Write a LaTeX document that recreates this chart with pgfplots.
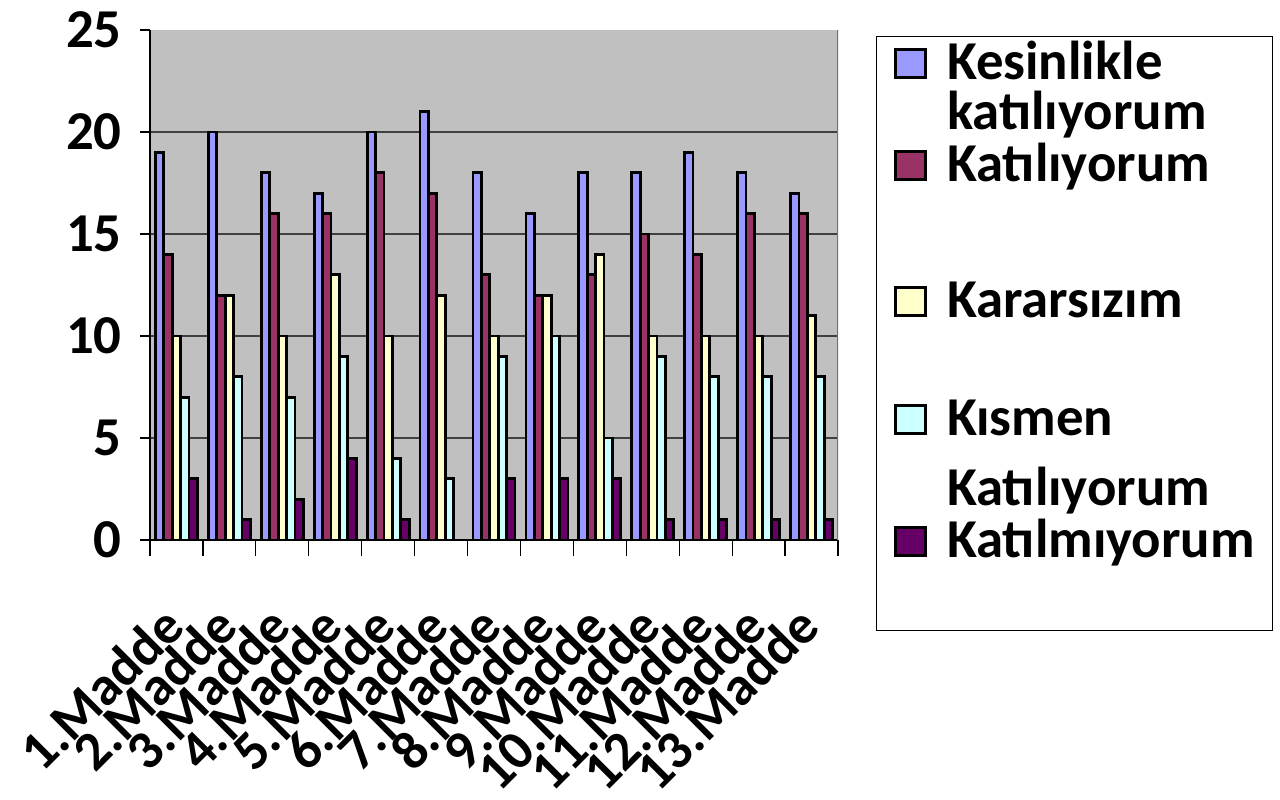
\documentclass[border=0pt]{standalone}
\usepackage{pgfplots}
\pgfplotsset{compat=1.18}
\usepackage{pgfplotstable}
\usepackage{fontspec}
\setmainfont{Carlito}
\definecolor{cA}{HTML}{9999FF}
\definecolor{cB}{HTML}{993366}
\definecolor{cC}{HTML}{FFFFCC}
\definecolor{cD}{HTML}{CCFFFF}
\definecolor{cE}{HTML}{660066}
\definecolor{bg}{HTML}{C0C0C0}
\pgfplotstableread{
x a b c d e
0 19 14 10 7 3
1 20 12 12 8 1
2 18 16 10 7 2
3 17 16 13 9 4
4 20 18 10 4 1
5 21 17 12 3 0
6 18 13 10 9 3
7 16 12 12 10 3
8 18 13 14 5 3
9 18 15 10 9 1
10 19 14 10 8 1
11 18 16 10 8 1
12 17 16 11 8 1
}\datatable
\newcommand{\bigf}{\fontsize{27.5}{30}\selectfont\bfseries}
\newcommand{\legrow}[2]{\rule{0pt}{#1bp}\smash{#2}}
\begin{document}
\begin{tikzpicture}
\useasboundingbox (0,0) rectangle (640bp,400bp);
\begin{axis}[
  at={(75bp,130bp)}, anchor=south west,
  scale only axis, width=344bp, height=255bp,
  ybar=0pt, bar width=4.2bp,
  xmin=-0.5, xmax=12.5, ymin=0, ymax=25,
  axis background/.style={fill=bg},
  axis x line*=bottom, axis y line*=left,
  axis line style={-, black, line width=0.6bp},
  ytick={0,5,10,15,20}, extra y ticks={25}, extra y tick style={grid=none},
  ymajorgrids, grid style={black!75, line width=0.6bp},
  xtick={0,...,12},
  xticklabels={1.Madde,2.Madde,3.Madde,4.Madde,5.Madde,6.Madde,7.Madde,8.Madde,9.Madde,10.Madde,11.Madde,12.Madde,13.Madde},
  major x tick style={draw=none},
  minor xtick={-0.5,0.5,...,12.5},
  minor x tick style={draw=black, line width=0.6bp},
  tick align=outside,
  major tick length=5bp, minor tick length=8bp,
  tick style={black, line width=0.6bp},
  /pgf/number format/assume math mode=true,
  tick label style={font=\bigf},
  yticklabel style={anchor=east, inner sep=0pt, xshift=-9bp},
  xticklabel style={xshift=-1.5bp, yshift=-33bp, rotate=45, anchor=east, inner sep=0pt},
  legend style={at={(1.0552,0.988)}, anchor=north west, draw=black, line width=0.5bp, fill=white,
    inner xsep=9bp, inner ysep=3bp, row sep=0pt, column sep=10bp,
    nodes={inner sep=0pt, text depth=0pt, font=\bigf}, cells={anchor=base west}},
  legend image code/.code={\draw[#1, line width=1.3bp] (0bp,1bp) rectangle (15bp,15bp);},
]
\addplot[fill=cA, draw=black, line width=1.4bp] table[x=x, y=a] {\datatable};
\addlegendentry{\legrow{18.5}{Kesinlikle}}
\addlegendimage{empty legend}\addlegendentry{\legrow{25}{katılıyorum}}
\addplot[fill=cB, draw=black, line width=1.4bp] table[x=x, y=b] {\datatable};
\addlegendentry{\legrow{26}{Katılıyorum}}
\addlegendimage{empty legend}\addlegendentry{\legrow{34}{}}
\addplot[fill=cC, draw=black, line width=1.4bp] table[x=x, y=c] {\datatable};
\addlegendentry{\legrow{34}{Kararsızım}}
\addlegendimage{empty legend}\addlegendentry{\legrow{29.5}{}}
\addplot[fill=cD, draw=black, line width=1.4bp] table[x=x, y=d] {\datatable};
\addlegendentry{\legrow{29.5}{Kısmen}}
\addlegendimage{empty legend}\addlegendentry{\legrow{35}{Katılıyorum}}
\addplot[fill=cE, draw=black, line width=1.4bp] table[x=x, y=e] {\datatable};
\addlegendentry{\legrow{26}{Katılmıyorum}}
\addlegendimage{empty legend}\addlegendentry{\legrow{33.5}{}}
\draw[black!55, line width=0.8bp] (rel axis cs:1,0) -- (rel axis cs:1,1);
\end{axis}
\end{tikzpicture}
\end{document}
